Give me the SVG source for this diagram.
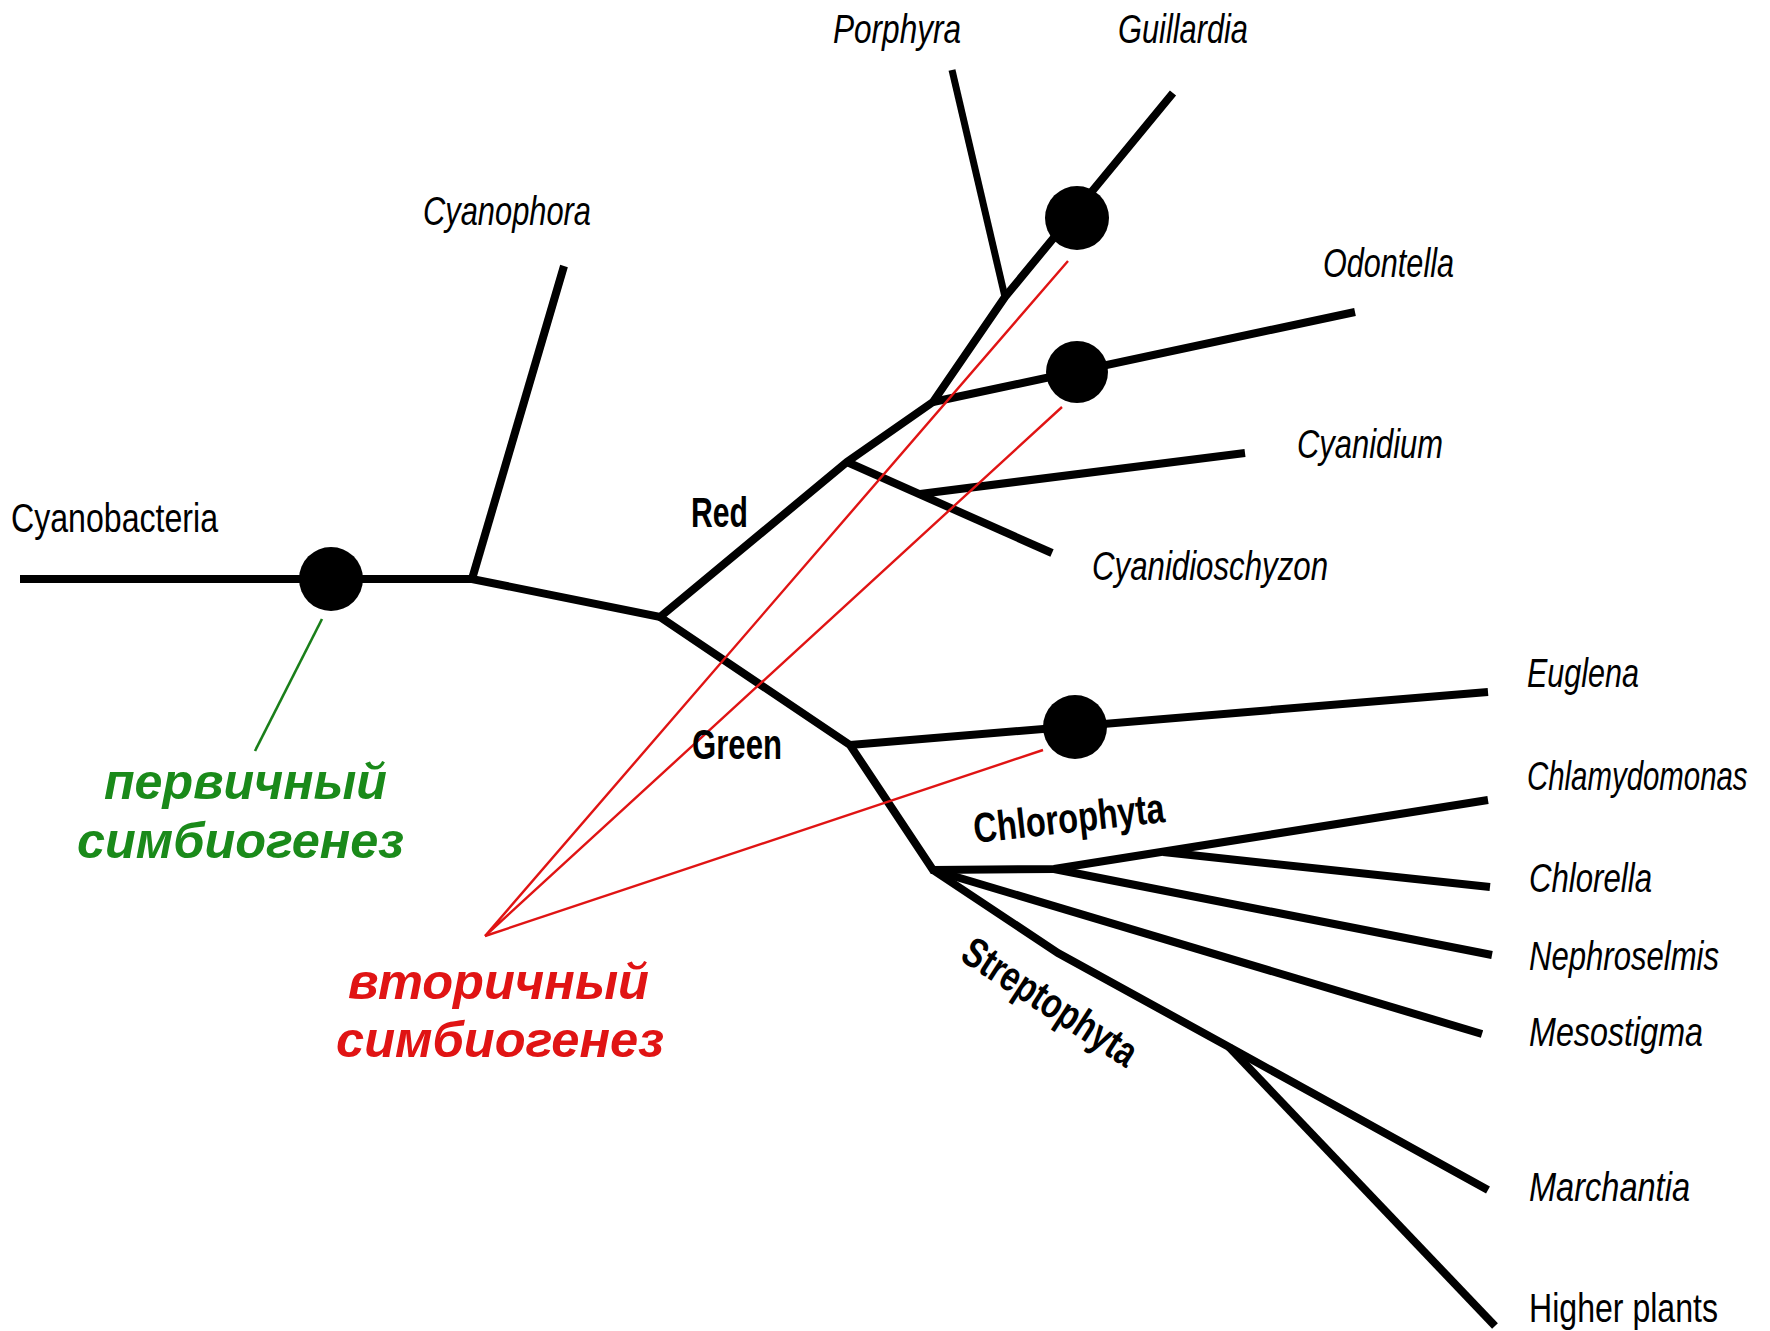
<svg xmlns="http://www.w3.org/2000/svg" width="1770" height="1331" viewBox="0 0 1770 1331">
<style>
.br{fill:none;stroke:#000;stroke-width:8;stroke-linejoin:miter;stroke-linecap:butt}
.thin{stroke-width:7}
.rl{fill:none;stroke:#e01414;stroke-width:2.4}
.gl{fill:none;stroke:#1a7f1a;stroke-width:2.6}
.dot{fill:#000}
.sp{font-family:"Liberation Sans",Arial,sans-serif;font-style:italic;font-size:41px;fill:#000}
.sr{font-family:"Liberation Sans",Arial,sans-serif;font-style:italic;font-size:40px;fill:#000}
.up{font-family:"Liberation Sans",Arial,sans-serif;font-size:40px;fill:#000}
.grp{font-family:"Liberation Sans",Arial,sans-serif;font-weight:bold;font-size:42px;fill:#000}
.big{font-family:"Liberation Sans",Arial,sans-serif;font-weight:bold;font-style:italic;font-size:50px}
.gt{fill:#1a8a1a}
.rt{fill:#e01414}
</style>
<rect width="1770" height="1331" fill="#fff"/>
<g id="connectors">
<path class="br" d="M20,579 L472,579 L660,617 L847,462 L933,402 L1005,297 L1173,93"/>
<path class="br" d="M472,579 L564,266"/>
<path class="br thin" d="M1005,297 L952,70"/>
<path class="br" d="M933,402 L1355,312"/>
<path class="br" d="M847,462 L1052,553"/>
<path class="br" d="M920,494 L1245,453"/>
<path class="br" d="M660,617 L850,745 L933,870 L1054,869 L1488,800"/>
<path class="br" d="M850,745 L1488,692"/>
<path class="br" d="M1163,852 L1490,887"/>
<path class="br" d="M1054,869 L1492,955"/>
<path class="br" d="M933,870 L1482,1034"/>
<path class="br" d="M933,870 L1058,953 L1229,1047 L1488,1190"/>
<path class="br" d="M1229,1047 L1495,1326"/>
<path class="rl" d="M1068,261 L485,936 L1062,407"/>
<path class="rl" d="M485,936 L1043,750"/>
<path class="gl" d="M322,619 L255,751"/>
</g>
<g id="node-primary"><circle class="dot" cx="331" cy="579" r="32"/></g>
<g id="node-guillardia-event"><circle class="dot" cx="1077" cy="218" r="32"/></g>
<g id="node-odontella-event"><circle class="dot" cx="1077" cy="372" r="31"/></g>
<g id="node-euglena-event"><circle class="dot" cx="1075" cy="727" r="32"/></g>
<g id="label-cyanobacteria"><text class="up" x="11" y="532" textLength="207" lengthAdjust="spacingAndGlyphs">Cyanobacteria</text></g>
<g id="label-cyanophora"><text class="sp" x="423" y="225" textLength="168" lengthAdjust="spacingAndGlyphs">Cyanophora</text></g>
<g id="label-porphyra"><text class="sp" x="833" y="43" textLength="128" lengthAdjust="spacingAndGlyphs">Porphyra</text></g>
<g id="label-guillardia"><text class="sp" x="1118" y="43" textLength="130" lengthAdjust="spacingAndGlyphs">Guillardia</text></g>
<g id="label-odontella"><text class="sp" x="1323" y="277" textLength="131" lengthAdjust="spacingAndGlyphs">Odontella</text></g>
<g id="label-cyanidium"><text class="sp" x="1297" y="458" textLength="146" lengthAdjust="spacingAndGlyphs">Cyanidium</text></g>
<g id="label-cyanidioschyzon"><text class="sp" x="1092" y="580" textLength="236" lengthAdjust="spacingAndGlyphs">Cyanidioschyzon</text></g>
<g id="label-red"><text class="grp" x="691" y="527" textLength="57" lengthAdjust="spacingAndGlyphs">Red</text></g>
<g id="label-green"><text class="grp" x="692" y="759" textLength="90" lengthAdjust="spacingAndGlyphs">Green</text></g>
<g id="label-chlorophyta"><text class="grp" transform="translate(975,843) rotate(-6.3)" textLength="192" lengthAdjust="spacingAndGlyphs">Chlorophyta</text></g>
<g id="label-streptophyta"><text class="grp" transform="translate(1050,1002) rotate(33)" x="0" y="14" text-anchor="middle" textLength="200" lengthAdjust="spacingAndGlyphs">Streptophyta</text></g>
<g id="label-euglena"><text class="sr" x="1527" y="687" textLength="112" lengthAdjust="spacingAndGlyphs">Euglena</text></g>
<g id="label-chlamydomonas"><text class="sr" transform="translate(1527,790) scale(0.735,1)">Chlamydomonas</text></g>
<g id="label-chlorella"><text class="sr" x="1529" y="892" textLength="123" lengthAdjust="spacingAndGlyphs">Chlorella</text></g>
<g id="label-nephroselmis"><text class="sr" x="1529" y="970" textLength="190" lengthAdjust="spacingAndGlyphs">Nephroselmis</text></g>
<g id="label-mesostigma"><text class="sr" x="1529" y="1046" textLength="174" lengthAdjust="spacingAndGlyphs">Mesostigma</text></g>
<g id="label-marchantia"><text class="sr" x="1529" y="1201" textLength="161" lengthAdjust="spacingAndGlyphs">Marchantia</text></g>
<g id="label-higher-plants"><text class="up" x="1529" y="1322" textLength="189" lengthAdjust="spacingAndGlyphs">Higher plants</text></g>
<g id="label-primary">
<text class="big gt" x="104" y="799" textLength="283" lengthAdjust="spacingAndGlyphs">первичный</text>
<text class="big gt" x="77" y="858" textLength="327" lengthAdjust="spacingAndGlyphs">симбиогенез</text>
</g>
<g id="label-secondary">
<text class="big rt" x="348" y="999" textLength="301" lengthAdjust="spacingAndGlyphs">вторичный</text>
<text class="big rt" x="336" y="1057" textLength="328" lengthAdjust="spacingAndGlyphs">симбиогенез</text>
</g>
</svg>
